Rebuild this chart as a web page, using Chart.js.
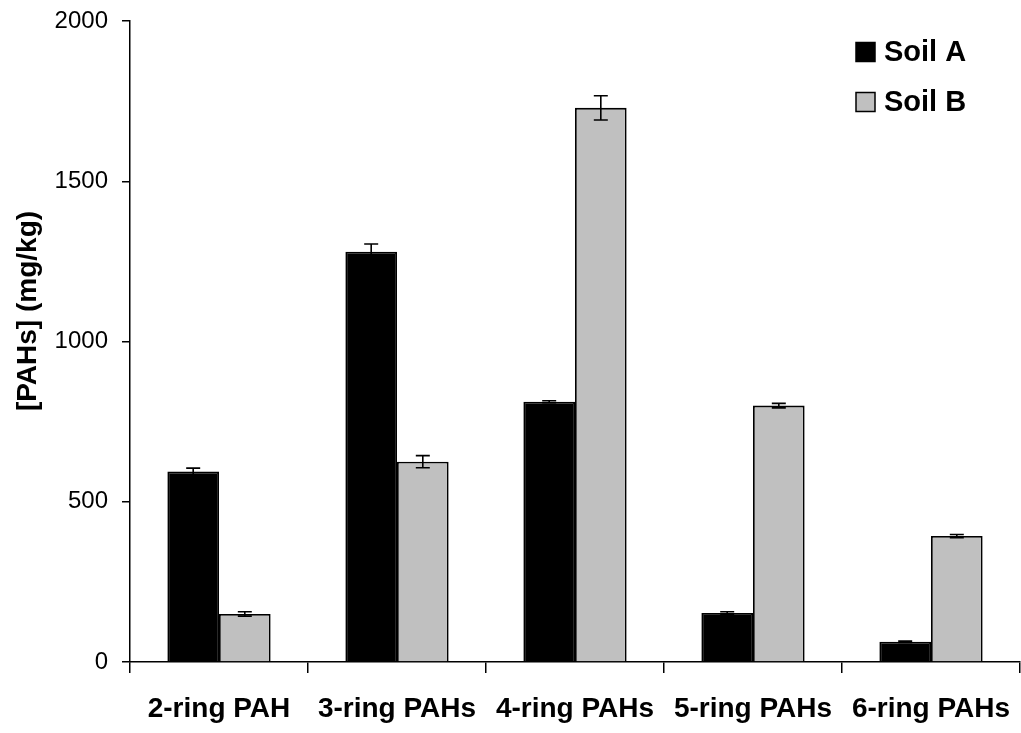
<!DOCTYPE html>
<html>
<head>
<meta charset="utf-8">
<script src="https://cdn.jsdelivr.net/npm/chart.js@4.4.1/dist/chart.umd.min.js"></script>
<style>
  html, body { margin: 0; padding: 0; background: #fff; }
  #wrap { width: 1021px; height: 733px; }
</style>
</head>
<body>
<div id="wrap"><canvas id="chart" width="1021" height="733"></canvas></div>
<script>
// values
const categories = ["2-ring PAH", "3-ring PAHs", "4-ring PAHs", "5-ring PAHs", "6-ring PAHs"];
const soilA = [594, 1280, 812, 153, 63];
const soilB = [150, 625, 1729, 800, 393];
const soilAErr = [11, 24, 3, 4, 2];
const soilBErr = [7, 19, 38, 7, 5];
const yTicks = [0, 500, 1000, 1500, 2000];
const yTitle = "[PAHs] (mg/kg)";

const FONT = "'Liberation Sans', Arial, sans-serif";

// error bars drawn from the bar elements + y scale
const errorBars = {
  id: "errorBars",
  afterDatasetsDraw(chart) {
    const ctx = chart.ctx;
    const y = chart.scales.y;
    const errs = [soilAErr, soilBErr];
    chart.data.datasets.forEach((ds, di) => {
      const meta = chart.getDatasetMeta(di);
      meta.data.forEach((bar, i) => {
        const v = ds.data[i];
        const e = errs[di][i];
        const top = y.getPixelForValue(v + e);
        const bot = y.getPixelForValue(v - e);
        ctx.save();
        ctx.strokeStyle = "#000";
        ctx.lineWidth = 1.6;
        ctx.beginPath();
        ctx.moveTo(bar.x, top);
        ctx.lineTo(bar.x, bot);
        ctx.moveTo(bar.x - 7, top);
        ctx.lineTo(bar.x + 7, top);
        ctx.moveTo(bar.x - 7, bot);
        ctx.lineTo(bar.x + 7, bot);
        ctx.stroke();
        ctx.restore();
      });
    });
  }
};

// legend in the top right corner + y-axis title
const decorations = {
  id: "decorations",
  afterDraw(chart) {
    const ctx = chart.ctx;
    ctx.save();
    chart.data.datasets.forEach((ds, i) => {
      const cy = 52 + i * 50;
      ctx.fillStyle = ds.backgroundColor;
      ctx.fillRect(856, cy - 9.5, 19, 19);
      ctx.strokeStyle = "#000";
      ctx.lineWidth = 1.5;
      ctx.strokeRect(856, cy - 9.5, 19, 19);
      ctx.fillStyle = "#000";
      ctx.font = "bold 29px " + FONT;
      ctx.textBaseline = "middle";
      ctx.textAlign = "left";
      ctx.fillText(ds.label, 884, cy + 1);
    });

    ctx.translate(28, 311);
    ctx.rotate(-Math.PI / 2);
    ctx.font = "bold 28px " + FONT;
    ctx.textAlign = "center";
    ctx.textBaseline = "middle";
    ctx.fillStyle = "#000";
    ctx.fillText(yTitle, 0, 0);
    ctx.restore();
  }
};

new Chart(document.getElementById("chart"), {
  type: "bar",
  data: {
    labels: categories,
    datasets: [
      {
        label: "Soil A",
        data: soilA,
        backgroundColor: "#000000",
        borderColor: "#000000",
        borderWidth: 1.8,
        categoryPercentage: 0.58,
        barPercentage: 1.0,
      },
      {
        label: "Soil B",
        data: soilB,
        backgroundColor: "#c0c0c0",
        borderColor: "#000000",
        borderWidth: 1.8,
        categoryPercentage: 0.58,
        barPercentage: 1.0,
      },
    ],
  },
  options: {
    responsive: false,
    animation: false,
    layout: { padding: { top: 21, right: 1, bottom: 0, left: 0 } },
    plugins: { legend: { display: false }, tooltip: { enabled: false } },
    scales: {
      x: {
        grid: {
          offset: true,
          drawOnChartArea: false,
          tickLength: 11,
          color: "#000",
          lineWidth: 1.5,
        },
        border: { display: true, color: "#000", width: 1.5 },
        ticks: {
          color: "#000",
          font: { family: FONT, size: 28, weight: "bold" },
          padding: 19,
          maxRotation: 0,
          autoSkip: false,
        },
        afterFit(scale) {
          scale.height = 71;
          scale.paddingLeft = 0;
          scale.paddingRight = 0;
        },
      },
      y: {
        min: 0,
        max: 2000,
        afterBuildTicks(scale) { scale.ticks = yTicks.map((v) => ({ value: v })); },
        grid: {
          drawOnChartArea: false,
          tickLength: 8,
          color: "#000",
          lineWidth: 1.5,
        },
        border: { display: true, color: "#000", width: 1.5 },
        ticks: {
          color: "#000",
          font: { family: FONT, size: 24 },
          padding: 14,
          callback: (v) => String(v),
        },
        afterFit(scale) {
          scale.width = 130;
          scale.paddingTop = 0;
          scale.paddingBottom = 0;
        },
      },
    },
  },
  plugins: [errorBars, decorations],
});
</script>
</body>
</html>
